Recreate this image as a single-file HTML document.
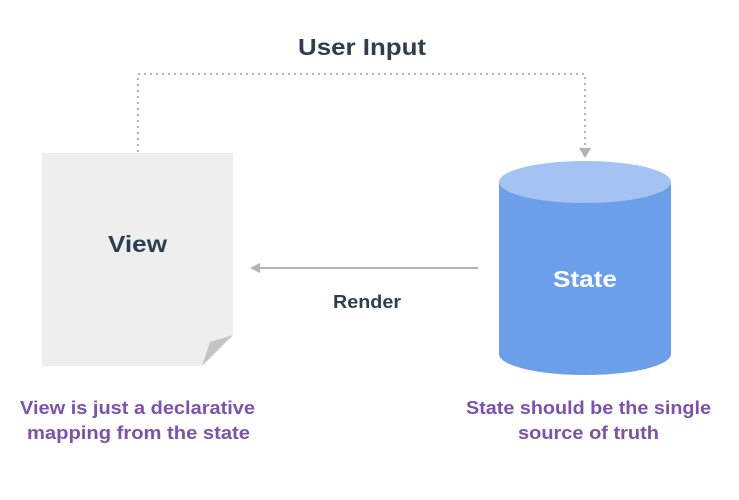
<!DOCTYPE html>
<html><head><meta charset="utf-8"><style>
body{margin:0;background:#fff;}
svg text{font-family:"Liberation Sans",sans-serif;font-weight:bold;}
</style></head><body>
<svg width="739" height="495" viewBox="0 0 739 495" xmlns="http://www.w3.org/2000/svg">
<text x="298" y="55" font-size="23" fill="#2c3e50" textLength="128" lengthAdjust="spacingAndGlyphs">User Input</text>
<polyline points="138,152 138,74 585,74 585,150" fill="none" stroke="#b3b3b3" stroke-width="2" stroke-dasharray="2,4"/>
<polygon points="579,148 591,148 585,158" fill="#b3b3b3"/>
<polygon points="42,153 233,153 233,335 202,366 42,366" fill="#eeeeee"/>
<polygon points="210,342 233,335 202,366" fill="#c4c4c4"/>
<text x="108" y="252" font-size="23" fill="#2c3e50" textLength="59" lengthAdjust="spacingAndGlyphs">View</text>
<line x1="478" y1="268" x2="258" y2="268" stroke="#b3b3b3" stroke-width="2"/>
<polygon points="250,268 260,263 260,273" fill="#b3b3b3"/>
<text x="333" y="308" font-size="18" fill="#2c3e50" textLength="68" lengthAdjust="spacingAndGlyphs">Render</text>
<path d="M499,182 L499,354 A86,21 0 0 0 671,354 L671,182 Z" fill="#6c9fea"/>
<ellipse cx="585" cy="182" rx="86" ry="21" fill="#a4c3f2"/>
<text x="553" y="287" font-size="23" fill="#fff" textLength="64" lengthAdjust="spacingAndGlyphs">State</text>
<text x="20" y="414" font-size="18" fill="#7d52a8" textLength="235" lengthAdjust="spacingAndGlyphs">View is just a declarative</text>
<text x="27" y="439" font-size="18" fill="#7d52a8" textLength="223" lengthAdjust="spacingAndGlyphs">mapping from the state</text>
<text x="466" y="414" font-size="18" fill="#7d52a8" textLength="245" lengthAdjust="spacingAndGlyphs">State should be the single</text>
<text x="518" y="439" font-size="18" fill="#7d52a8" textLength="141" lengthAdjust="spacingAndGlyphs">source of truth</text>
</svg>
</body></html>
